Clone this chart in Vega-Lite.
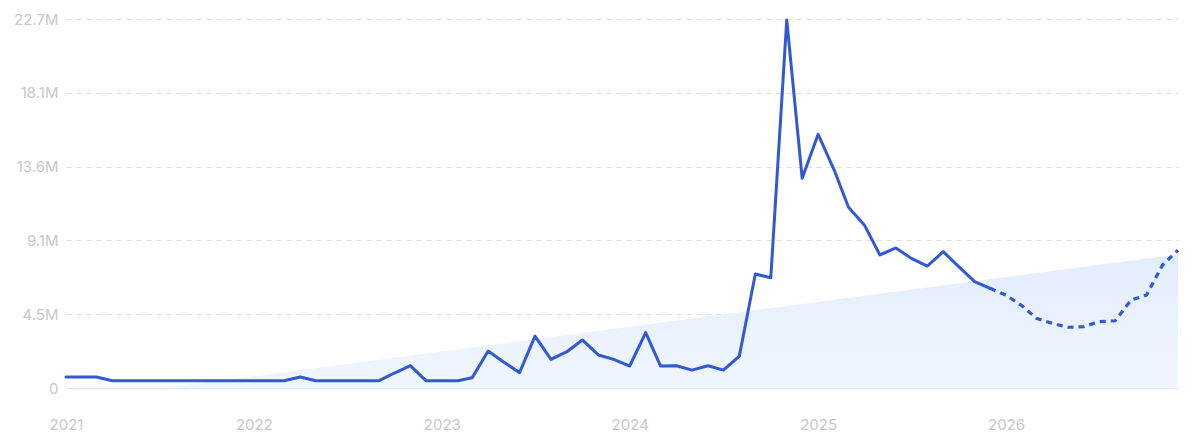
{
  "$schema": "https://vega.github.io/schema/vega-lite/v6.json",
  "width": 1112,
  "height": 369,
  "autosize": "none",
  "padding": {"left": 66, "top": 19, "right": 22, "bottom": 60},
  "background": "white",
  "config": {
    "view": {"stroke": null},
    "font": "Inter",
    "axis": {"labelFont": "Inter", "labelColor": "#c8c8c8", "labelFontSize": 15, "labelFontWeight": 400}
  },
  "datasets": {
    "trend": [
      {"date": "2021-07-10", "trend": 0},
      {"date": "2026-12-01", "trend": 8200000}
    ],
    "series": [
      {"date": "2021-01-01", "value": 680000, "kind": "actual"},
      {"date": "2021-02-01", "value": 680000, "kind": "actual"},
      {"date": "2021-03-01", "value": 680000, "kind": "actual"},
      {"date": "2021-04-01", "value": 450000, "kind": "actual"},
      {"date": "2021-05-01", "value": 450000, "kind": "actual"},
      {"date": "2021-06-01", "value": 450000, "kind": "actual"},
      {"date": "2021-07-01", "value": 450000, "kind": "actual"},
      {"date": "2021-08-01", "value": 450000, "kind": "actual"},
      {"date": "2021-09-01", "value": 450000, "kind": "actual"},
      {"date": "2021-10-01", "value": 450000, "kind": "actual"},
      {"date": "2021-11-01", "value": 450000, "kind": "actual"},
      {"date": "2021-12-01", "value": 450000, "kind": "actual"},
      {"date": "2022-01-01", "value": 450000, "kind": "actual"},
      {"date": "2022-02-01", "value": 450000, "kind": "actual"},
      {"date": "2022-03-01", "value": 450000, "kind": "actual"},
      {"date": "2022-04-01", "value": 680000, "kind": "actual"},
      {"date": "2022-05-01", "value": 450000, "kind": "actual"},
      {"date": "2022-06-01", "value": 450000, "kind": "actual"},
      {"date": "2022-07-01", "value": 450000, "kind": "actual"},
      {"date": "2022-08-01", "value": 450000, "kind": "actual"},
      {"date": "2022-09-01", "value": 450000, "kind": "actual"},
      {"date": "2022-10-01", "value": 920000, "kind": "actual"},
      {"date": "2022-11-01", "value": 1370000, "kind": "actual"},
      {"date": "2022-12-01", "value": 450000, "kind": "actual"},
      {"date": "2023-01-01", "value": 450000, "kind": "actual"},
      {"date": "2023-02-01", "value": 450000, "kind": "actual"},
      {"date": "2023-03-01", "value": 630000, "kind": "actual"},
      {"date": "2023-04-01", "value": 2270000, "kind": "actual"},
      {"date": "2023-05-01", "value": 1600000, "kind": "actual"},
      {"date": "2023-06-01", "value": 940000, "kind": "actual"},
      {"date": "2023-07-01", "value": 3190000, "kind": "actual"},
      {"date": "2023-08-01", "value": 1760000, "kind": "actual"},
      {"date": "2023-09-01", "value": 2230000, "kind": "actual"},
      {"date": "2023-10-01", "value": 2950000, "kind": "actual"},
      {"date": "2023-11-01", "value": 2030000, "kind": "actual"},
      {"date": "2023-12-01", "value": 1760000, "kind": "actual"},
      {"date": "2024-01-01", "value": 1350000, "kind": "actual"},
      {"date": "2024-02-01", "value": 3400000, "kind": "actual"},
      {"date": "2024-03-01", "value": 1350000, "kind": "actual"},
      {"date": "2024-04-01", "value": 1370000, "kind": "actual"},
      {"date": "2024-05-01", "value": 1100000, "kind": "actual"},
      {"date": "2024-06-01", "value": 1370000, "kind": "actual"},
      {"date": "2024-07-01", "value": 1100000, "kind": "actual"},
      {"date": "2024-08-01", "value": 1960000, "kind": "actual"},
      {"date": "2024-09-01", "value": 7000000, "kind": "actual"},
      {"date": "2024-10-01", "value": 6770000, "kind": "actual"},
      {"date": "2024-11-01", "value": 22600000, "kind": "actual"},
      {"date": "2024-12-01", "value": 12880000, "kind": "actual"},
      {"date": "2025-01-01", "value": 15580000, "kind": "actual"},
      {"date": "2025-02-01", "value": 13400000, "kind": "actual"},
      {"date": "2025-03-01", "value": 11100000, "kind": "actual"},
      {"date": "2025-04-01", "value": 10000000, "kind": "actual"},
      {"date": "2025-05-01", "value": 8170000, "kind": "actual"},
      {"date": "2025-06-01", "value": 8600000, "kind": "actual"},
      {"date": "2025-07-01", "value": 7960000, "kind": "actual"},
      {"date": "2025-08-01", "value": 7490000, "kind": "actual"},
      {"date": "2025-09-01", "value": 8370000, "kind": "actual"},
      {"date": "2025-10-01", "value": 7450000, "kind": "actual"},
      {"date": "2025-11-01", "value": 6530000, "kind": "actual"},
      {"date": "2025-12-01", "value": 6120000, "kind": "actual"},
      {"date": "2025-12-01", "value": 6120000, "kind": "forecast"},
      {"date": "2026-01-01", "value": 5700000, "kind": "forecast"},
      {"date": "2026-02-01", "value": 5050000, "kind": "forecast"},
      {"date": "2026-03-01", "value": 4280000, "kind": "forecast"},
      {"date": "2026-04-01", "value": 3970000, "kind": "forecast"},
      {"date": "2026-05-01", "value": 3730000, "kind": "forecast"},
      {"date": "2026-06-01", "value": 3770000, "kind": "forecast"},
      {"date": "2026-07-01", "value": 4070000, "kind": "forecast"},
      {"date": "2026-08-01", "value": 4130000, "kind": "forecast"},
      {"date": "2026-09-01", "value": 5400000, "kind": "forecast"},
      {"date": "2026-10-01", "value": 5710000, "kind": "forecast"},
      {"date": "2026-11-01", "value": 7550000, "kind": "forecast"},
      {"date": "2026-12-01", "value": 8470000, "kind": "forecast"}
    ]
  },
  "encoding": {
    "x": {
      "field": "date",
      "type": "temporal",
      "title": null,
      "scale": {"type": "utc", "domain": [{"year": 2021, "month": 1, "date": 1, "utc": true}, {"year": 2026, "month": 12, "date": 1, "utc": true}]},
      "axis": {
        "values": [
          {"year": 2021, "month": 1, "date": 1, "utc": true},
          {"year": 2022, "month": 1, "date": 1, "utc": true},
          {"year": 2023, "month": 1, "date": 1, "utc": true},
          {"year": 2024, "month": 1, "date": 1, "utc": true},
          {"year": 2025, "month": 1, "date": 1, "utc": true},
          {"year": 2026, "month": 1, "date": 1, "utc": true}
        ],
        "format": "%Y",
        "formatType": "utc",
        "grid": false,
        "ticks": false,
        "domain": true,
        "domainColor": "#dbe7fa",
        "domainWidth": 1.5,
        "labelPadding": 29,
        "labelAlign": "center"
      }
    }
  },
  "layer": [
    {
      "data": {"name": "trend"},
      "mark": {
        "type": "area",
        "fill": {"gradient": "linear", "x1": 0, "y1": 0, "x2": 0, "y2": 1, "stops": [{"offset": 0, "color": "#e2edfc"}, {"offset": 1, "color": "#f0f6fe"}]},
        "stroke": null
      },
      "encoding": {
        "y": {
          "field": "trend",
          "type": "quantitative",
          "title": null,
          "scale": {"domain": [0, 22660000], "nice": false},
          "axis": {
            "values": [0, 4532000, 9064000, 13598000, 18128000, 22660000],
            "labelExpr": "datum.value == 0 ? '0' : format(datum.value / 1000000, '.1f') + 'M'",
            "grid": true,
            "gridColor": "#dedede",
            "gridDash": [5, 5],
            "gridWidth": 1,
            "ticks": false,
            "domain": false,
            "labelPadding": 8
          }
        }
      }
    },
    {
      "data": {"name": "series"},
      "transform": [{"filter": "datum.kind == 'actual'"}],
      "mark": {"type": "line", "color": "#3159d3", "strokeWidth": 3, "strokeJoin": "round", "strokeCap": "round"},
      "encoding": {"y": {"field": "value", "type": "quantitative"}}
    },
    {
      "data": {"name": "series"},
      "transform": [{"filter": "datum.kind == 'forecast'"}],
      "mark": {"type": "line", "color": "#3159d3", "strokeWidth": 3.2, "strokeDash": [6, 5]},
      "encoding": {"y": {"field": "value", "type": "quantitative"}}
    }
  ]
}
